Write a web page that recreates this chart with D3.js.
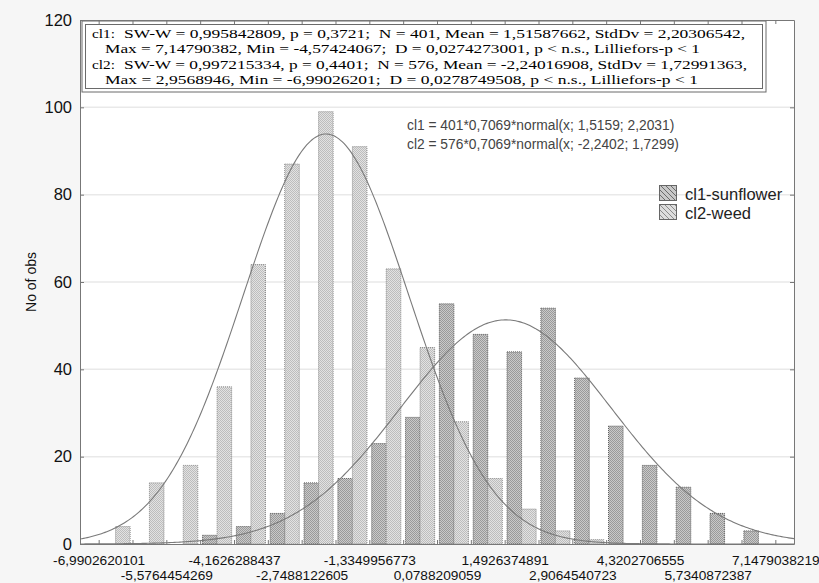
<!DOCTYPE html>
<html>
<head>
<meta charset="utf-8">
<script src="https://cdn.jsdelivr.net/npm/d3@7"></script>
<style>
  html, body { margin: 0; padding: 0; background: #f6f6f6; }
  svg { display: block; }
</style>
</head>
<body>
<script>
// ---------------- data ----------------
const binEdges = [-6.9902620101, -6.2833537185, -5.5764454269, -4.8695371353, -4.1626288437,
  -3.4557205521, -2.7488122605, -2.0419039689, -1.3349956773, -0.6280873857, 0.0788209059,
  0.7857291975, 1.4926374891, 2.1995457807, 2.9064540723, 3.6133623639, 4.3202706555,
  5.0271789471, 5.7340872387, 6.4409955303, 7.1479038219];
const cl1Counts = [0, 0, 0, 2, 4, 7, 14, 15, 23, 29, 55, 48, 44, 54, 38, 27, 18, 13, 7, 3];
const cl2Counts = [4, 14, 18, 36, 64, 87, 99, 91, 63, 45, 28, 15, 8, 3, 1, 0, 0, 0, 0, 0];
const xTickValues = [-6.9902620101, -5.5764454269, -4.1626288437, -2.7488122605, -1.3349956773,
  0.0788209059, 1.4926374891, 2.9064540723, 4.3202706555, 5.7340872387, 7.1479038219];
const xTickLabels = ["-6,9902620101", "-5,5764454269", "-4,1626288437", "-2,7488122605", "-1,3349956773",
  "0,0788209059", "1,4926374891", "2,9064540723", "4,3202706555", "5,7340872387", "7,1479038219"];
const yTicks = [0, 20, 40, 60, 80, 100, 120];
const seriesNames = ["cl1-sunflower", "cl2-weed"];
// fitted normal curves: N, bin width, mean, sd
const cl1Fit = [401, 0.7069, 1.5159, 2.2031];
const cl2Fit = [576, 0.7069, -2.2402, 1.7299];
const statLines = [
  ["cl1:", "SW-W = 0,995842809, p = 0,3721;  N = 401, Mean = 1,51587662, StdDv = 2,20306542,"],
  ["", "Max = 7,14790382, Min = -4,57424067;  D = 0,0274273001, p < n.s., Lilliefors-p < 1"],
  ["cl2:", "SW-W = 0,997215334, p = 0,4401;  N = 576, Mean = -2,24016908, StdDv = 1,72991363,"],
  ["", "Max = 2,9568946, Min = -6,99026201;  D = 0,0278749508, p < n.s., Lilliefors-p < 1"]
];
const fitLabels = ["cl1 = 401*0,7069*normal(x; 1,5159; 2,2031)",
                   "cl2 = 576*0,7069*normal(x; -2,2402; 1,7299)"];
const yTitle = "No of obs";

// ---------------- layout ----------------
const W = 819, H = 583;
const L = 80, R = 794, T = 20, B = 544;
const pad = 0.39;

const svg = d3.select("body").append("svg").attr("width", W).attr("height", H);
svg.append("rect").attr("width", W).attr("height", H).attr("fill", "#f6f6f6");

const defs = svg.append("defs");
function checker(id, a, b) {
  const p = defs.append("pattern").attr("id", id).attr("patternUnits", "userSpaceOnUse")
    .attr("width", 2).attr("height", 2);
  p.append("rect").attr("width", 2).attr("height", 2).attr("fill", a);
  p.append("rect").attr("width", 1).attr("height", 1).attr("fill", b);
  p.append("rect").attr("x", 1).attr("y", 1).attr("width", 1).attr("height", 1).attr("fill", b);
}
checker("p1", "#c9c9c9", "#9a9a9a");
checker("p2", "#e2e2e2", "#bdbdbd");
function hatch(id, bg, fg) {
  const p = defs.append("pattern").attr("id", id).attr("patternUnits", "userSpaceOnUse")
    .attr("width", 5).attr("height", 5);
  p.append("rect").attr("width", 5).attr("height", 5).attr("fill", bg);
  p.append("path").attr("d", "M0,0 L5,5 M-1,4 L1,6 M4,-1 L6,1").attr("stroke", fg).attr("stroke-width", 1);
}
hatch("h1", "#c8c8c8", "#6a6a6a");
hatch("h2", "#dddddd", "#8a8a8a");

const x = d3.scaleLinear().domain([binEdges[0] - pad, binEdges[binEdges.length - 1] + pad]).range([L, R]);
const y = d3.scaleLinear().domain([0, 120]).range([B, T]);

// plot background
svg.append("rect").attr("x", L).attr("y", T).attr("width", R - L).attr("height", B - T).attr("fill", "#ffffff");

// gridlines
svg.append("g").selectAll("line").data(yTicks.filter(d => d > 0 && d < 120)).join("line")
  .attr("x1", L).attr("x2", R).attr("y1", d => y(d)).attr("y2", d => y(d))
  .attr("stroke", "#e9e9e9").attr("stroke-width", 1.5);

// bars
const bins = d3.range(cl1Counts.length).map(i => ({
  c: (binEdges[i] + binEdges[i + 1]) / 2, w: x(binEdges[i + 1]) - x(binEdges[i]), v1: cl1Counts[i], v2: cl2Counts[i]
}));
const bw = d => d.w * 0.43;
const gb = svg.append("g");
gb.selectAll("rect.b1").data(bins).join("rect").attr("class", "b1")
  .attr("x", d => x(d.c) - bw(d)).attr("width", bw)
  .attr("y", d => y(d.v1)).attr("height", d => y(0) - y(d.v1))
  .attr("fill", "url(#p1)").attr("stroke", "#5a5a5a").attr("stroke-width", 1).attr("stroke-dasharray", "1,1");
gb.selectAll("rect.b2").data(bins).join("rect").attr("class", "b2")
  .attr("x", d => x(d.c)).attr("width", bw)
  .attr("y", d => y(d.v2)).attr("height", d => y(0) - y(d.v2))
  .attr("fill", "url(#p2)").attr("stroke", "#8a8a8a").attr("stroke-width", 1).attr("stroke-dasharray", "1,1");

// curves
function normCurve(p) {
  const [n, w, m, s] = p;
  return d3.range(0, 401).map(k => {
    const xv = x.domain()[0] + (x.domain()[1] - x.domain()[0]) * k / 400;
    const z = (xv - m) / s;
    return [xv, n * w * Math.exp(-0.5 * z * z) / (s * Math.sqrt(2 * Math.PI))];
  });
}
const line = d3.line().x(d => x(d[0])).y(d => y(d[1]));
[cl1Fit, cl2Fit].forEach(p => {
  svg.append("path").attr("d", line(normCurve(p))).attr("fill", "none")
    .attr("stroke", "#7a7a7a").attr("stroke-width", 1.1);
});

// stats box
const box = svg.append("g");
box.append("rect").attr("x", 82).attr("y", 21).attr("width", 684).attr("height", 71)
  .attr("fill", "#ffffff").attr("stroke", "#6a6a6a").attr("stroke-width", 1);
box.append("rect").attr("x", 85.5).attr("y", 24.5).attr("width", 677).attr("height", 64)
  .attr("fill", "none").attr("stroke", "#6a6a6a").attr("stroke-width", 1);
const lineEnds = [745, 700, 747, 698];
statLines.forEach((ln, i) => {
  const by = 38 + i * 15.4;
  if (ln[0]) box.append("text").attr("x", 92).attr("y", by).text(ln[0])
    .attr("textLength", 23).attr("lengthAdjust", "spacingAndGlyphs");
  const x0 = ln[0] ? 124 : 105;
  box.append("text").attr("x", x0).attr("y", by).text(ln[1])
    .attr("textLength", lineEnds[i] - x0).attr("lengthAdjust", "spacingAndGlyphs");
});
box.selectAll("text").attr("font-family", "'Liberation Serif', 'Times New Roman', serif")
  .attr("font-size", 13.5).attr("fill", "#000").style("white-space", "pre");

// axes
const axisColor = "#777";
function styleAxis(g) {
  g.selectAll("path.domain").attr("stroke", axisColor);
  g.selectAll(".tick line").attr("stroke", axisColor);
  g.selectAll("text").attr("font-family", "'Liberation Sans', Arial, sans-serif").attr("fill", "#111");
}
const gl = svg.append("g").attr("transform", `translate(${L},0)`)
  .call(d3.axisLeft(y).tickValues(yTicks).tickSizeInner(-4).tickSizeOuter(0).tickPadding(8));
styleAxis(gl); gl.selectAll("text").attr("font-size", 16.5);
const gr = svg.append("g").attr("transform", `translate(${R},0)`)
  .call(d3.axisRight(y).tickValues(yTicks).tickSizeInner(-4).tickSizeOuter(0).tickFormat(""));
styleAxis(gr);
const gbx = svg.append("g").attr("transform", `translate(0,${B})`)
  .call(d3.axisBottom(x).tickValues(binEdges).tickSizeInner(-4).tickSizeOuter(0).tickFormat(""));
styleAxis(gbx);
const gt = svg.append("g").attr("transform", `translate(0,${T})`)
  .call(d3.axisTop(x).tickValues(binEdges).tickSizeInner(-4).tickSizeOuter(0).tickFormat(""));
styleAxis(gt);
const glab = svg.append("g").attr("transform", `translate(0,${B})`)
  .call(d3.axisBottom(x).tickValues(xTickValues).tickSize(0).tickPadding(11).tickFormat((d, i) => xTickLabels[i]));
glab.select("path.domain").remove();
styleAxis(glab);
glab.selectAll("text").attr("font-size", 13.7).attr("dy", (d, i) => i % 2 ? "1.8em" : "0.71em");

// y title
svg.append("text").attr("transform", "translate(36,282) rotate(-90)").attr("text-anchor", "middle")
  .attr("font-family", "'Liberation Sans', Arial, sans-serif").attr("font-size", 14).attr("fill", "#111")
  .text(yTitle);

// fit labels
fitLabels.forEach((t, i) => {
  svg.append("text").attr("x", 407).attr("y", 130 + i * 19).text(t)
    .attr("font-family", "'Liberation Sans', Arial, sans-serif").attr("font-size", 13.8).attr("fill", "#444");
});

// legend
const lg = svg.append("g");
seriesNames.forEach((s, i) => {
  lg.append("rect").attr("x", 659.5).attr("y", 185.5 + i * 19).attr("width", 17).attr("height", 15)
    .attr("fill", i ? "url(#h2)" : "url(#h1)").attr("stroke", "#666");
  lg.append("text").attr("x", 685).attr("y", 200 + i * 19).text(s)
    .attr("font-family", "'Liberation Sans', Arial, sans-serif").attr("font-size", 16.5).attr("fill", "#222");
});
</script>
</body>
</html>
